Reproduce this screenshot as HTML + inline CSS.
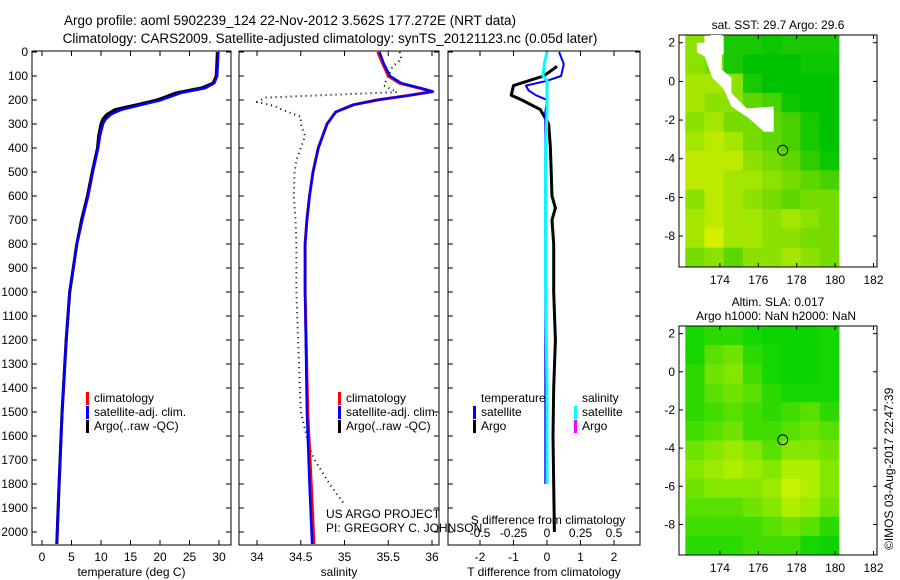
<!DOCTYPE html>
<html><head><meta charset="utf-8">
<style>
html,body{margin:0;padding:0;background:#fff;}
svg{display:block;font-family:"Liberation Sans",sans-serif;}
text{font-size:12px;fill:#000;}
</style></head>
<body>
<svg id="fig" width="900" height="580" viewBox="0 0 900 580" xmlns="http://www.w3.org/2000/svg">
<rect x="0" y="0" width="900" height="580" fill="#fff"/>
<text x="290" y="25" text-anchor="middle" style="font-size:13.5px">Argo profile: aoml 5902239_124 22-Nov-2012 3.562S 177.272E (NRT data)</text>
<text x="330" y="43" text-anchor="middle" style="font-size:13.5px">Climatology: CARS2009. Satellite-adjusted climatology: synTS_20121123.nc (0.05d later)</text>
<g id="g"></g>
</svg>
<script>
// ---------- data ----------
const tDepth = [0,100,130,150,170,200,220,240,260,280,300,350,400,500,600,700,800,900,1000,1200,1500,1800,2050];
const tClim  = [29.7,29.5,29.0,27.6,23.4,20.0,16.6,13.2,11.5,10.7,10.3,9.8,9.5,8.6,7.8,6.8,5.9,5.3,4.7,4.1,3.4,2.9,2.5];
const tSat   = [29.9,29.7,29.2,27.7,23.6,20.2,16.9,13.5,11.7,10.8,10.3,9.8,9.5,8.6,7.8,6.8,5.9,5.3,4.7,4.1,3.4,2.9,2.5];
const tArgo  = [29.8,29.6,29.0,27.0,22.8,19.5,16.0,12.4,11.0,10.3,10.0,9.6,9.4,8.5,7.7,6.7,5.9,5.3,4.7,4.1,3.4,2.9,2.5];
const sDepth = [0,50,100,130,155,165,180,200,220,250,300,400,500,600,700,800,1000,1500,1800,2050];
const sClim  = [35.38,35.44,35.5,35.63,35.9,36.0,35.75,35.37,35.1,34.9,34.8,34.7,34.64,34.6,34.57,34.55,34.55,34.58,34.62,34.65];
const sSat   = [35.4,35.45,35.52,35.65,35.92,36.01,35.76,35.38,35.1,34.9,34.8,34.7,34.64,34.6,34.57,34.55,34.55,34.57,34.6,34.63];
const sArgoDepth = [0,30,60,100,140,167,190,208,225,242,270,300,350,400,450,500,600,700,800,1000,1200,1500,1650,1700,1800,1885];
const sArgo      = [35.63,35.65,35.55,35.5,35.45,35.6,34.1,34.0,34.2,34.3,34.5,34.5,34.55,34.5,34.45,34.43,34.42,34.44,34.45,34.45,34.47,34.5,34.6,34.66,34.83,35.0];
const dDepth  = [0,50,100,120,140,160,180,200,250,400,600,700,800,1000,1400,1800];
const dTSat   = [0.36,0.5,0.42,0.0,-0.63,-0.55,-0.33,0.0,-0.05,-0.05,-0.05,-0.05,-0.05,-0.05,-0.05,-0.05];
const aDepth  = [60,80,100,140,180,200,240,300,400,600,650,700,800,1000,1200,1400,1600,1800,2000];
const dTArgo  = [0.3,0.1,-0.1,-1.0,-1.07,-0.75,-0.2,0.05,0.1,0.15,0.25,0.15,0.2,0.2,0.25,0.2,0.18,0.2,0.22];
const dSSat   = [0.0,-0.02,-0.03,0.0,0.0,0.0,0.0,0.0,0.0,-0.01,-0.01,-0.01,-0.01,-0.01,0.0,0.0];
const depthTicks = [0,100,200,300,400,500,600,700,800,900,1000,1100,1200,1300,1400,1500,1600,1700,1800,1900,2000];
const tTicks = [0,5,10,15,20,25,30];
const sTicks = [34,34.5,35,35.5,36];
const dTicks = [-2,-1,0,1,2];
const dSTickLabels = ["-0.5","-0.25","0","0.25","0.5"];
const lonTicks = [174,176,178,180,182];
const latTicks = [2,0,-2,-4,-6,-8];
const sstGrid = [
 [0.6,-1,0.1,0.1,0.05,0.1,0.1,0.1],
 [0.6,0.5,0.1,0,0,0,0.05,0.05],
 [0.7,0.7,0.6,0.1,0,0,0,0],
 [0.7,0.6,0.6,0.4,0.3,0.05,0,0],
 [0.6,0.7,0.5,0.5,0.4,0.3,0.1,0],
 [0.7,0.8,0.7,0.5,0.4,0.3,0.1,0],
 [0.8,0.8,0.8,0.6,0.5,0.4,0.2,0.05],
 [0.8,0.8,0.7,0.7,0.6,0.5,0.4,0.3],
 [0.6,0.8,0.7,0.6,0.5,0.4,0.5,0.5],
 [0.7,0.8,0.7,0.7,0.6,0.7,0.6,0.5],
 [0.7,0.9,0.7,0.7,0.6,0.6,0.5,0.5],
 [0.5,0.6,0.4,0.6,0.6,0.7,0.6,0.5]];
const slaGrid = [
 [0.1,0.2,0.2,0.1,0.05,0.05,0.05,0.1],
 [0.1,0.4,0.5,0.2,0.1,0.05,0.05,0.1],
 [0.2,0.5,0.6,0.3,0.1,0.05,0.05,0.1],
 [0.2,0.4,0.5,0.4,0.2,0.1,0.1,0.1],
 [0.2,0.3,0.4,0.3,0.2,0.3,0.4,0.2],
 [0.3,0.4,0.5,0.3,0.3,0.4,0.5,0.4],
 [0.5,0.6,0.7,0.6,0.4,0.6,0.6,0.5],
 [0.6,0.7,0.8,0.7,0.6,0.8,0.8,0.6],
 [0.5,0.6,0.6,0.6,0.7,0.9,0.8,0.6],
 [0.4,0.4,0.4,0.5,0.6,0.8,0.7,0.5],
 [0.3,0.3,0.3,0.3,0.4,0.5,0.4,0.2],
 [0.2,0.2,0.2,0.3,0.3,0.3,0.1,0.05]];
const floatLon = 177.272, floatLat = -3.562;

// ---------- helpers ----------
const NS="http://www.w3.org/2000/svg";
const G=document.getElementById('g');
function mk(tag,attrs,parent){const e=document.createElementNS(NS,tag);for(const k in attrs)e.setAttribute(k,attrs[k]);(parent||G).appendChild(e);return e;}
const Y0=52, YS=0.24, PB=545, PT=51;
const yD = d => Y0 + d*YS;
function lin(d0,d1,p0,p1){return v=>p0+(v-d0)*(p1-p0)/(d1-d0);}

function panel(name,x0,x1,xf,ticks,labels,xlabel,showY){
  const r=mk('rect',{x:x0,y:PT,width:x1-x0,height:PB-PT,fill:'none',stroke:'#000','stroke-width':1});
  
  
  depthTicks.forEach(d=>{
    mk('line',{x1:x0,x2:x0+5,y1:yD(d),y2:yD(d),stroke:'#000'});
    mk('line',{x1:x1-5,x2:x1,y1:yD(d),y2:yD(d),stroke:'#000'});
    if(showY){const t=mk('text',{x:x0-4,y:yD(d)+4,'text-anchor':'end'});t.textContent=d;
      
      }
  });
  ticks.forEach((v,i)=>{
    const x=xf(v);
    mk('line',{x1:x,x2:x,y1:PB,y2:PB-5,stroke:'#000'});
    mk('line',{x1:x,x2:x,y1:PT,y2:PT+5,stroke:'#000'});
    const t=mk('text',{x:x,y:PB+16,'text-anchor':'middle'});t.textContent=labels?labels[i]:v;
    
    
  });
  const xl=mk('text',{x:(x0+x1)/2,y:PB+31,'text-anchor':'middle'});xl.textContent=xlabel;
  
  
}
function step(xs,ds,xf,color,w,name,dash){
  let p='';
  for(let i=0;i<xs.length;i++){const X=xf(xs[i]),Y=yD(ds[i]);p+=(i?'L':'M')+X.toFixed(1)+' '+Y.toFixed(1);}
  const a={d:p,fill:'none',stroke:color,'stroke-width':w,'stroke-linejoin':'round'};
  if(dash)a['stroke-dasharray']=dash;
  const e=mk('path',a);
  
  
}
function legend(x,y,items,name){
  items.forEach((it,i)=>{
    if(it[1]){mk('rect',{x:x,y:y+i*14-10,width:3,height:13,fill:it[1]});}
    const t=mk('text',{x:x+8,y:y+i*14});t.textContent=it[0];
    
    
  });
}

// ---------- panel 1: temperature ----------
const xT=lin(0,30,42,219);
panel('temperature-panel',32,231,xT,tTicks,null,'temperature (deg C)',true);
step(tClim,tDepth,xT,'#f00',3,'temperature-climatology-line');
step(tArgo,tDepth,xT,'#000',3,'temperature-argo-line');
step(tSat,tDepth,xT,'#00f',2.5,'temperature-satellite-line');
legend(86,402,[['climatology','#f00'],['satellite-adj. clim.','#00f'],['Argo(..raw -QC)','#000']],'temperature-legend');

// ---------- panel 2: salinity ----------
const xS=lin(34,36,257,432);
panel('salinity-panel',239,439,xS,sTicks,null,'salinity',false);
step(sArgo,sArgoDepth,xS,'#000',2,'salinity-argo-dotted-line','1 4');
step(sClim,sDepth,xS,'#f00',3,'salinity-climatology-line');
step(sSat,sDepth,xS,'#00f',2.5,'salinity-satellite-line');
legend(338,402,[['climatology','#f00'],['satellite-adj. clim.','#00f'],['Argo(..raw -QC)','#000']],'salinity-legend');
const pr1=mk('text',{x:326,y:518});pr1.textContent='US ARGO PROJECT';


const pr2=mk('text',{x:326,y:532});pr2.textContent='PI: GREGORY C. JOHNSON';



// ---------- panel 3: differences ----------
const xDT=lin(-2,2,480,614);
const xDS=lin(-0.5,0.5,480,614);
panel('difference-panel',448,640,xDT,dTicks,null,'T difference from climatology',false);
step(dTArgo,aDepth,xDT,'#000',3,'temperature-argo-difference-line');
step(dTSat,dDepth,xDT,'#00f',2,'temperature-satellite-difference-line');
step(dSSat,dDepth,xDS,'#0ff',3,'salinity-satellite-difference-line');
dTicks.forEach((v,i)=>{const t=mk('text',{x:xDT(v),y:537,'text-anchor':'middle'});t.textContent=dSTickLabels[i];
  
  });
const sdl=mk('text',{x:548,y:524,'text-anchor':'middle'});sdl.textContent='S difference from climatology';


legend(473,402,[['temperature',null],['satellite','#00f'],['Argo','#000']],'temperature-difference-legend');
legend(574,402,[['salinity',null],['satellite','#0ff'],['Argo','#f0f']],'salinity-difference-legend');

// ---------- maps ----------
function map(name,top,bottom,grid,c0,c1,title1,title2){
  const xL=lin(172,182,681.5,873.5);
  const lat0=2.4, lat1=-9.6;
  const yL=lin(lat0,lat1,top,bottom);
  const nr=grid.length,nc=grid[0].length;
  for(let r=0;r<nr;r++)for(let c=0;c<nc;c++){
    const v=grid[r][c];
    const la=lat0-r, lo=172.2+c;
    const x=xL(lo),y=yL(la),w=xL(lo+1)-x+0.5,h=yL(la-1)-y+0.5;
    const col=v<0?'#fff':'rgb('+Math.round(c0[0]+(c1[0]-c0[0])*v)+','+Math.round(c0[1]+(c1[1]-c0[1])*v)+','+Math.round(c0[2]+(c1[2]-c0[2])*v)+')';
    const e=mk('rect',{x:x.toFixed(1),y:y.toFixed(1),width:w.toFixed(1),height:h.toFixed(1),fill:col});
    
    
  }
  const fr=mk('rect',{x:679,y:top,width:198,height:bottom-top,fill:'none',stroke:'#000'});
  
  
  lonTicks.forEach(v=>{const x=xL(v);
    mk('line',{x1:x,x2:x,y1:bottom,y2:bottom-4,stroke:'#000'});
    mk('line',{x1:x,x2:x,y1:top,y2:top+4,stroke:'#000'});
    const t=mk('text',{x:x,y:bottom+17,'text-anchor':'middle'});t.textContent=v;
    
    });
  latTicks.forEach(v=>{const y=yL(v);
    mk('line',{x1:679,x2:683,y1:y,y2:y,stroke:'#000'});
    mk('line',{x1:873,x2:877,y1:y,y2:y,stroke:'#000'});
    const t=mk('text',{x:675,y:y+4,'text-anchor':'end'});t.textContent=v;
    
    });
  const ci=mk('circle',{cx:xL(floatLon),cy:yL(floatLat),r:5,fill:'none',stroke:'#000'});
  
  
  const t1=mk('text',{x:778,y:title2?top-20:top-6,'text-anchor':'middle'});t1.textContent=title1;
  
  
  if(title2){const t2=mk('text',{x:776,y:top-6,'text-anchor':'middle'});t2.textContent=title2;
    
    }
  return {xL,yL};
}
const m1=map('sst-map',35,267,sstGrid,[0,195,0],[235,245,0],'sat. SST: 29.7 Argo: 29.6',null);
// land / missing strip in SST map
const land=[[173.5,2.4],[174.1,2.4],[174.1,0.6],[174.6,0.2],[174.6,-0.6],[175.4,-1.4],[176.8,-1.3],[176.8,-2.6],[176.3,-2.6],[175.5,-1.9],[174.6,-1.3],[174.2,-0.4],[173.6,0.2],[173.2,1.3],[172.8,1.5],[172.8,2.0],[173.5,2.0]];
let lp='';land.forEach((p,i)=>{lp+=(i?'L':'M')+m1.xL(p[0]).toFixed(1)+' '+m1.yL(p[1]).toFixed(1);});
const le=mk('path',{d:lp+'Z',fill:'#fff'});


const m2=map('sla-map',326,555,slaGrid,[0,210,0],[220,245,0],'Altim. SLA: 0.017','Argo h1000: NaN h2000: NaN');
const cr=mk('text',{x:893,y:550,transform:'rotate(-90 893 550)'});cr.textContent='\u00A9IMOS 03-Aug-2017 22:47:39';


</script>
</body></html>
